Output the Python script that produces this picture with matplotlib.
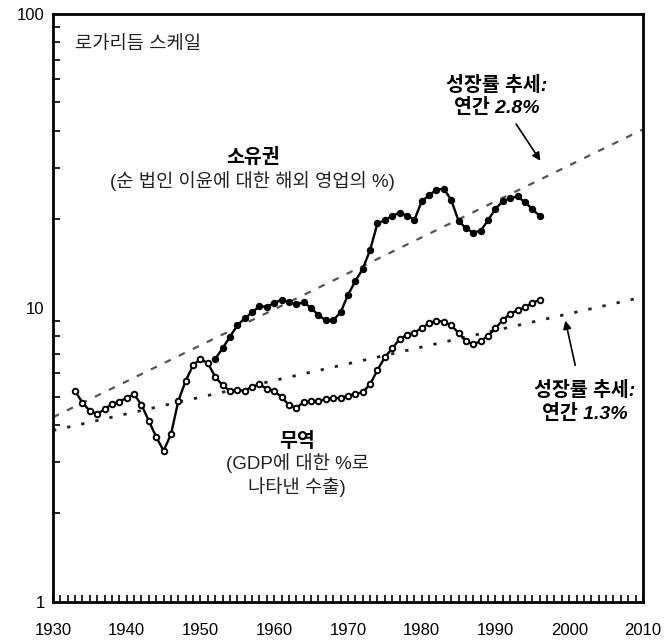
import matplotlib
matplotlib.use("Agg")
import matplotlib.pyplot as plt
from matplotlib.ticker import LogLocator, FixedLocator, NullFormatter, FixedFormatter

plt.rcParams['font.family'] = ['Liberation Sans', 'Noto Sans CJK KR', 'DejaVu Sans']

# --- data ---
own_years = list(range(1952, 1997))
own_values = [6.71, 7.29, 7.99, 8.73, 9.22, 9.67, 10.13, 10.10, 10.40, 10.67,
              10.48, 10.29, 10.46, 10.00, 9.45, 9.08, 9.08, 9.67, 11.07, 12.36,
              13.57, 15.75, 19.41, 19.88, 20.56, 21.09, 20.61, 19.93, 23.06, 24.17,
              25.26, 25.45, 23.30, 19.77, 18.67, 18.04, 18.33, 19.88, 21.76, 23.06,
              23.61, 23.99, 22.88, 21.71, 20.56]

trade_years = list(range(1933, 1997))
trade_values = [5.22, 4.76, 4.47, 4.36, 4.53, 4.72, 4.80, 4.95, 5.09, 4.68,
                4.13, 3.64, 3.27, 3.72, 4.83, 5.66, 6.39, 6.71, 6.49, 5.83,
                5.46, 5.22, 5.26, 5.23, 5.40, 5.50, 5.31, 5.23, 4.97, 4.68,
                4.58, 4.78, 4.82, 4.82, 4.90, 4.94, 4.94, 5.03, 5.10, 5.17,
                5.50, 6.15, 6.80, 7.29, 7.83, 8.11, 8.24, 8.55, 8.87, 9.05,
                8.98, 8.73, 8.22, 7.72, 7.52, 7.72, 8.05, 8.53, 9.10, 9.56,
                9.82, 10.05, 10.42, 10.65]

trend_years = [1930, 2010]
own_trend = [4.25, 40.5]     # 2.8% per year
trade_trend = [3.83, 10.9]   # 1.3% per year

x_ticks = list(range(1930, 2011, 10))
y_ticks = [1, 10, 100]
y_labels = ['1', '10', '100']

fig = plt.figure(figsize=(6.64, 6.42), dpi=100)
ax = fig.add_axes([0.0798, 0.0623, 0.8885, 0.9159])

ax.plot(trend_years, own_trend, color='#555555', lw=1.6, ls=(0, (3, 4)), zorder=1)
ax.plot(trend_years, trade_trend, color='#222222', lw=2.0, ls=(0, (1.2, 4)), zorder=1)

ax.plot(own_years, own_values, color='black', lw=1.7, marker='o', ms=4.3,
        mfc='black', mec='black', zorder=3)
ax.plot(trade_years, trade_values, color='black', lw=1.7, marker='o', ms=4.0,
        mfc='white', mec='black', mew=1.4, zorder=3)

ax.set_yscale('log')
ax.set_xlim(1930, 2010)
ax.set_ylim(1, 100)

ax.yaxis.set_major_locator(FixedLocator(y_ticks))
ax.yaxis.set_major_formatter(FixedFormatter(y_labels))
ax.yaxis.set_minor_locator(LogLocator(base=10, subs=range(2, 10)))
ax.yaxis.set_minor_formatter(NullFormatter())
ax.xaxis.set_major_locator(FixedLocator(x_ticks))
ax.xaxis.set_minor_locator(FixedLocator(range(1930, 2011)))

ax.tick_params(axis='both', which='both', direction='in', width=1.2,
               top=False, right=False, labelsize=12, colors='black')
ax.tick_params(axis='x', which='major', length=5, pad=15)
ax.tick_params(axis='both', which='minor', length=5)
ax.tick_params(axis='y', which='major', length=0, pad=6)

for s in ax.spines.values():
    s.set_linewidth(2)

# annotations
ax.text(1933.0, 78.5, '로가리듬 스케일', fontsize=13.5, style='italic',
        color='#222222', ha='left', va='center')

ax.text(1957.1, 32.4, '소유권', fontsize=14, style='italic', weight='bold',
        ha='center', va='center')
ax.text(1957.1, 27.0, '(순 법인 이윤에 대한 해외 영업의 %)', fontsize=13.5,
        color='#222222', ha='center', va='center')

ax.text(1990.2, 57.3, '성장률 추세:', fontsize=14, style='italic', weight='bold',
        ha='center', va='center')
ax.text(1990.2, 47.9, '연간 2.8%', fontsize=14, style='italic', weight='bold',
        ha='center', va='center')
ax.annotate('', xy=(1996.3, 31.1), xytext=(1992.6, 43.0),
            arrowprops=dict(arrowstyle='-|>', color='black', lw=1.2, mutation_scale=12))

ax.text(2002.1, 5.26, '성장률 추세:', fontsize=14, style='italic', weight='bold',
        ha='center', va='center')
ax.text(2002.1, 4.39, '연간 1.3%', fontsize=14, style='italic', weight='bold',
        ha='center', va='center')
ax.annotate('', xy=(1999.4, 9.25), xytext=(2000.9, 6.25),
            arrowprops=dict(arrowstyle='-|>', color='black', lw=1.2, mutation_scale=12))

ax.text(1963.1, 3.51, '무역', fontsize=14, style='italic', weight='bold',
        ha='center', va='center')
ax.text(1963.1, 2.97, '(GDP에 대한 %로', fontsize=13.5, color='#222222',
        ha='center', va='center')
ax.text(1963.1, 2.47, '나타낸 수출)', fontsize=13.5, color='#222222',
        ha='center', va='center')

fig.savefig('out.png', dpi=100)
